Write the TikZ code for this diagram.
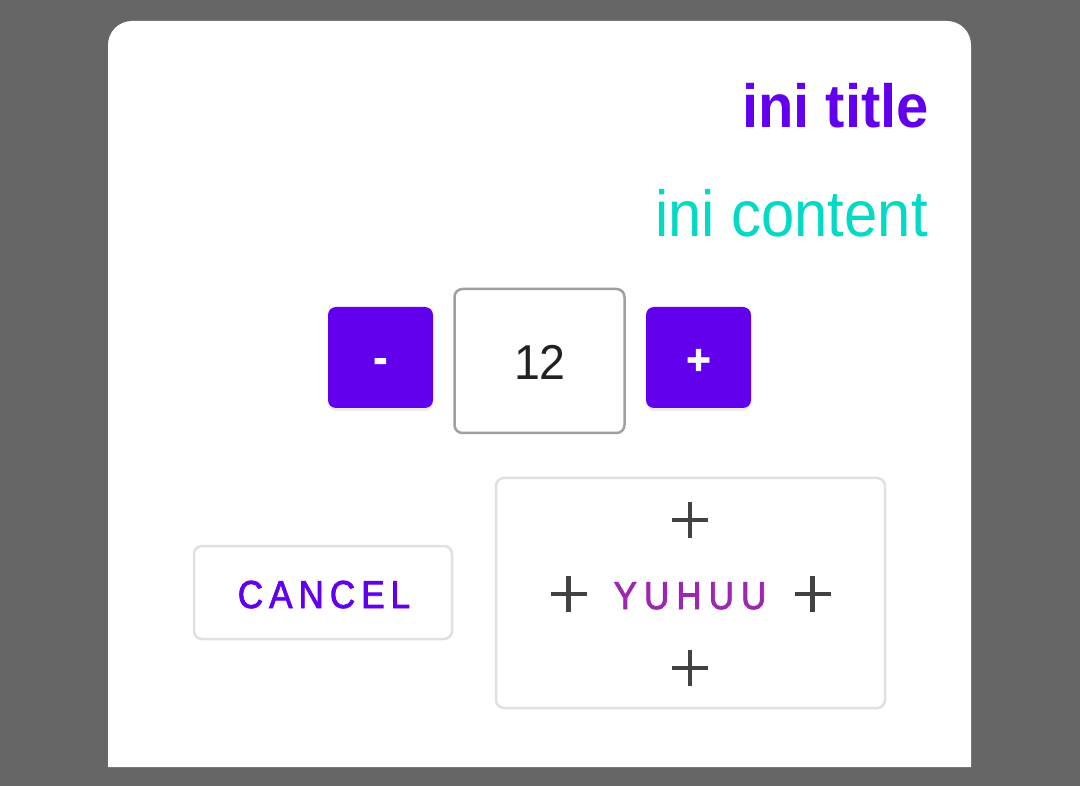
\documentclass[tikz,border=0pt]{standalone}
\usepackage{fontspec}
\setmainfont[FakeStretch=0.95]{Liberation Sans}
\newfontfamily\btnfont[FakeStretch=0.9, FakeBold=2]{Liberation Sans}
\newfontfamily\glyphfont[FakeBold=2]{Liberation Sans Bold}
\newfontfamily\contfont[FakeStretch=0.92]{Liberation Sans}
\usetikzlibrary{shadows}
\definecolor{bgc}{HTML}{666666}
\definecolor{prim}{HTML}{6200EE}
\definecolor{secc}{HTML}{03DAC5}
\definecolor{yuh}{HTML}{9C27B0}
\definecolor{iconc}{HTML}{424242}
\definecolor{txtc}{HTML}{212121}
\definecolor{boxline}{HTML}{A0A0A0}
\definecolor{outl}{HTML}{E0E0E0}
\begin{document}
\begin{tikzpicture}[x=1pt,y=-1pt,
  fab/.style={fill=prim, rounded corners=8pt, minimum width=105pt, minimum height=101pt, inner sep=0pt,
    drop shadow={opacity=0.15, shadow xshift=0pt, shadow yshift=-3pt, rounded corners=8pt}},
  numbox/.style={draw=boxline, line width=2.5pt, fill=white, rounded corners=8pt, minimum width=170pt, minimum height=144pt, inner sep=0pt},
  outbtn/.style={draw=outl, line width=2.5pt, fill=white, rounded corners=8pt, inner sep=0pt},
  glyph/.style={text=white, font=\glyphfont\fontsize{42}{50}\selectfont, anchor=base, inner sep=0pt},
  btntext/.style={font=\btnfont\fontsize{39}{46}\selectfont, anchor=base, inner sep=0pt},
  plusicon/.style={draw=iconc, line width=4.5pt}
]
\fill[bgc] (0,0) rectangle (1080,786);
\useasboundingbox (0,0) rectangle (1080,786);
\fill[white] (108,767) -- (108,45) arc[start angle=180, end angle=90, radius=24pt]
  -- (947,21) arc[start angle=90, end angle=0, radius=24pt] -- (971,767) -- cycle;

\node[anchor=base east, inner sep=0pt, text=prim, font=\fontsize{61}{72}\selectfont\bfseries] (title) at (929,128) {ini title};
\node[anchor=base east, inner sep=0pt, text=secc, font=\contfont\fontsize{65}{76}\selectfont] (content) at (928,237) {ini content};

\node[fab] (minus) at (380.5,357.5) {};
\node[numbox] (box) at (539.5,361) {};
\node[fab] (plus) at (698.5,357.5) {};
\node[glyph] (minusg) at (380.5,372) {-};
\node[glyph] (plusg) at (698.5,374) {+};
\node[anchor=base, inner sep=0pt, text=txtc, font=\fontsize{49}{58}\selectfont] (num) at (540,380) {12};

\node[outbtn, minimum width=258pt, minimum height=93pt] (cancel) at (323,592.5) {};
\node[btntext, text=prim] (canceltxt) at (324,608) {C\kern6pt A\kern6pt N\kern6pt C\kern6pt E\kern6pt L};

\node[outbtn, minimum width=389pt, minimum height=230pt] (yuhuu) at (690.5,593) {};
\node[btntext, text=yuh] (yuhtxt) at (690,609) {Y\kern7pt U\kern7pt H\kern7pt U\kern7pt U};

\foreach \cx/\cy in {690/520, 568.5/594, 812.5/594, 690/668}{
  \draw[plusicon] (\cx-18,\cy) -- (\cx+18,\cy);
  \draw[plusicon] (\cx,\cy-18) -- (\cx,\cy+18);
}
\end{tikzpicture}
\end{document}
